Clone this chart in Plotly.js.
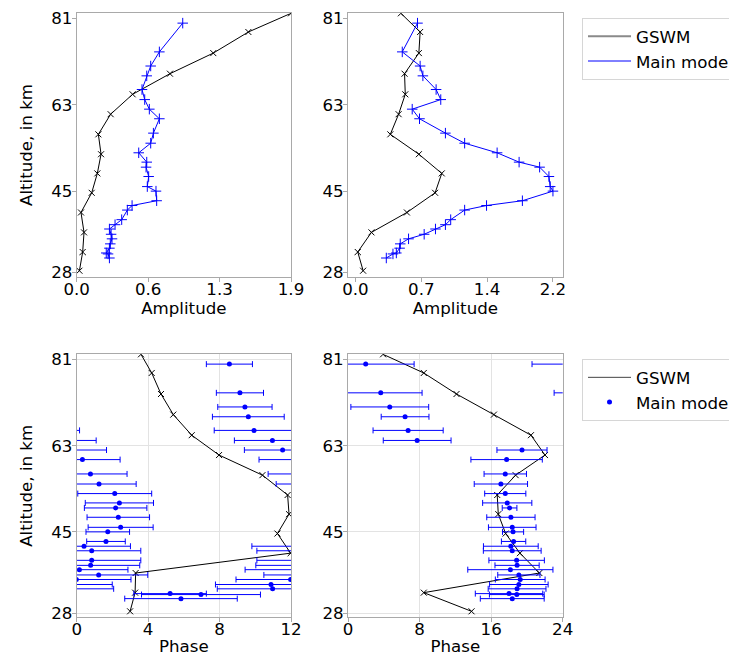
<!DOCTYPE html>
<html>
<head>
<meta charset="utf-8">
<script src="https://cdn.plot.ly/plotly-3.0.1.min.js"></script>
<style>html,body{margin:0;padding:0;background:#fff;}#chart{width:729px;height:660px;}</style>
</head>
<body>
<div id="chart"></div>
<script>
// ---------- data ----------
const altGswm = [82.1, 78.2, 73.8, 69.5, 65.2, 61.05, 56.85, 52.7, 48.7, 44.65, 40.55, 36.4, 32.3, 28.4];
const ampGswmLeft = [1.9, 1.522, 1.211, 0.827, 0.496, 0.301, 0.192, 0.216, 0.183, 0.133, 0.038, 0.065, 0.053, 0.024];
const ampGswmRight = [0.498, 0.709, 0.695, 0.538, 0.546, 0.473, 0.382, 0.695, 0.946, 0.873, 0.564, 0.175, 0.025, 0.084];
const phaseGswmLeft = [3.60, 4.20, 4.72, 5.41, 6.44, 7.97, 10.40, 11.81, 11.89, 11.24, 11.98, 3.30, 3.27, 2.99];
const phaseGswmRight = [3.92, 8.47, 12.13, 16.31, 20.45, 22.02, 18.74, 16.68, 16.80, 17.62, 19.22, 21.39, 8.47, 13.81];

const altMain = [80.05, 74.05, 71.1, 69.05, 66.2, 64.1, 62.1, 60.1, 57.1, 55.0, 53.0, 51.05, 50.0, 48.05, 45.95,
                 45.0, 43.0, 42.0, 41.05, 39.05, 38.0, 37.1, 36.0, 35.05, 34.0, 33.1, 32.1, 31.9, 31.05];
const ampMainLeft = [0.940, 0.733, 0.656, 0.621, 0.579, 0.603, 0.644, 0.733, 0.680, 0.656, 0.550, 0.621, 0.615, 0.638, 0.626,
                     0.703, 0.709, 0.491, 0.449, 0.399, 0.340, 0.290, 0.305, 0.313, 0.298, 0.290, 0.262, 0.278, 0.290];
const ampMainRight = [0.680, 0.513, 0.709, 0.739, 0.884, 0.935, 0.622, 0.702, 0.986, 1.197, 1.553, 1.794, 2.019, 2.121, 2.135,
                      2.165, 1.830, 1.437, 1.197, 1.044, 0.986, 0.877, 0.753, 0.582, 0.491, 0.484, 0.448, 0.411, 0.338];
const phaseMainLeft = [8.55, 9.14, 9.42, 9.61, 9.93, 10.96, 11.53, 0.32, 0.77, 1.25, 2.13, 2.39, 2.18, 2.33, 2.46,
                       1.74, 1.64, 0.41, 0.84, 0.84, 0.78, 0.15, 1.23, 11.98, 10.88, 10.97, 5.23, 6.96, 5.84];
const errMainLeft = [1.29, 1.32, 1.52, 2.01, 2.23, 2.13, 2.14, 2.11, 2.05, 2.08, 2.07, 1.91, 1.75, 1.75, 1.82,
                     1.22, 1.08, 2.60, 2.75, 2.75, 2.75, 2.72, 2.75, 3.06, 3.11, 3.10, 2.03, 3.33, 3.15];
const phaseMainRight = [1.98, 3.66, 4.67, 6.38, 6.72, 7.73, 19.45, 17.73, 17.58, 17.09, 17.58, 17.80, 18.06, 18.21, 18.36,
                        18.45, 18.51, 18.20, 18.36, 18.85, 18.90, 18.15, 19.10, 19.25, 19.10, 18.90, 18.00, 18.87, 18.36];
const errMainRight = [5.41, 4.62, 4.35, 2.67, 3.92, 3.79, 2.80, 3.99, 2.37, 2.98, 2.30, 2.75, 0.82, 2.70, 2.66,
                      1.18, 1.36, 3.06, 3.23, 3.10, 2.47, 4.76, 2.36, 2.78, 3.27, 3.23, 3.77, 3.06, 3.57];

const altTicks = [28, 45, 63, 81];
const periodLeft = 12, periodRight = 24;
const phaseTicksLeft = [0, 4, 8, 12];
const phaseTicksRight = [0, 8, 16, 24];
const labelGswm = 'GSWM', labelMain = 'Main mode';

// ---------- styles ----------
const FONT = 'DejaVu Sans, sans-serif';
const FS = 16.67;
const BLACK = '#000000', BLUE = '#0000ff', SPINE = '#a9a9a9';

function ampTicks(a, b) {
  const m = Math.max(...a, ...b);
  const vals = [0, m / 3, 2 * m / 3, m];
  return {vals, text: vals.map(v => v.toFixed(1))};
}

const traces = [];
function gswmTrace(x, xa, ya) {
  return {x, y: altGswm, xaxis: xa, yaxis: ya, type: 'scatter', mode: 'lines+markers', showlegend: false,
    line: {color: BLACK, width: 1},
    marker: {symbol: 'x-thin', size: 6, color: BLACK, line: {color: BLACK, width: 1}}, hoverinfo: 'skip'};
}
function mainAmpTrace(x, xa, ya) {
  return {x, y: altMain, xaxis: xa, yaxis: ya, type: 'scatter', mode: 'lines+markers', showlegend: false,
    line: {color: BLUE, width: 1},
    marker: {symbol: 'cross-thin', size: 7.5, color: BLUE, line: {color: BLUE, width: 1}}, hoverinfo: 'skip'};
}
function mainPhaseTraces(ph, err, period, xa, ya) {
  return [-period, 0, period].map(s => ({
    x: ph.map(v => v + s), y: altMain, xaxis: xa, yaxis: ya, type: 'scatter', mode: 'markers', showlegend: false,
    marker: {symbol: 'circle', size: 5, color: BLUE},
    error_x: {type: 'data', array: err, symmetric: true, color: BLUE, thickness: 1, width: 3},
    cliponaxis: true, hoverinfo: 'skip'}));
}

traces.push(gswmTrace(ampGswmLeft, 'x', 'y'));
traces.push(mainAmpTrace(ampMainLeft, 'x', 'y'));
traces.push(gswmTrace(ampGswmRight, 'x2', 'y2'));
traces.push(mainAmpTrace(ampMainRight, 'x2', 'y2'));
traces.push(gswmTrace(phaseGswmLeft, 'x3', 'y3'));
traces.push(...mainPhaseTraces(phaseMainLeft, errMainLeft, periodLeft, 'x3', 'y3'));
traces.push(gswmTrace(phaseGswmRight, 'x4', 'y4'));
traces.push(...mainPhaseTraces(phaseMainRight, errMainRight, periodRight, 'x4', 'y4'));

// legend-only entries
traces.push({x: [null], y: [null], xaxis: 'x', yaxis: 'y', type: 'scatter', mode: 'lines', name: labelGswm,
  line: {color: '#8a8a8a', width: 2}, legend: 'legend'});
traces.push({x: [null], y: [null], xaxis: 'x', yaxis: 'y', type: 'scatter', mode: 'lines', name: labelMain,
  line: {color: BLUE, width: 1}, legend: 'legend'});
traces.push({x: [null], y: [null], xaxis: 'x3', yaxis: 'y3', type: 'scatter', mode: 'lines', name: labelGswm,
  line: {color: '#444444', width: 1}, legend: 'legend2'});
traces.push({x: [null], y: [null], xaxis: 'x3', yaxis: 'y3', type: 'scatter', mode: 'markers', name: labelMain,
  marker: {color: BLUE, size: 5}, legend: 'legend2'});

const W = 729, H = 660;
const colL = [76.7 / W, 291 / W], colR = [348 / W, 562.7 / W];
const rowT = [1 - 276.7 / H, 1 - 13.3 / H], rowB = [1 - 617.3 / H, 1 - 354.3 / H];
const yRange = [27.15, 82.1];

function baseAxis(extra) {
  return Object.assign({
    showline: true, mirror: true, linecolor: SPINE, linewidth: 1,
    ticks: 'outside', ticklen: 4, tickcolor: SPINE, tickwidth: 1,
    tickfont: {family: FONT, size: FS, color: '#000'},
    zeroline: false, showgrid: false, fixedrange: true
  }, extra);
}
function yAx(domain, anchor, withTitle, grid) {
  return baseAxis({domain, anchor, range: yRange, tickmode: 'array', tickvals: altTicks, ticktext: altTicks.map(String),
    showgrid: grid, gridcolor: '#e3e3e3', ticklabelstandoff: -4,
    title: withTitle ? {text: 'Altitude, in km', font: {family: FONT, size: FS, color: '#000'}, standoff: 14} : {text: ''}});
}
function xAx(domain, anchor, range, tv, tt, title, grid) {
  return baseAxis({domain, anchor, range, tickmode: 'array', tickvals: tv, ticktext: tt,
    showgrid: grid, gridcolor: '#e3e3e3', ticklabelstandoff: -7,
    title: {text: title, font: {family: FONT, size: FS, color: '#000'}, standoff: 2}});
}

const tL = ampTicks(ampGswmLeft, ampMainLeft);
const tR = ampTicks(ampGswmRight, ampMainRight);
const allR = ampGswmRight.concat(ampMainRight);
const rMin = Math.min(...allR), rMax = Math.max(...allR), rPad = 0.05 * (rMax - rMin);

const legendStyle = {
  bgcolor: 'rgba(255,255,255,1)', bordercolor: '#d6d6d6', borderwidth: 1,
  font: {family: FONT, size: FS, color: '#000'}, xanchor: 'left', yanchor: 'top', tracegroupgap: 0,
  itemwidth: 43
};

const layout = {
  width: W, height: H, margin: {l: 0, r: 0, t: 0, b: 0, autoexpand: false}, paper_bgcolor: '#fff', plot_bgcolor: '#fff',
  font: {family: FONT, size: FS, color: '#000'},
  showlegend: true,
  legend: Object.assign({x: 582 / W, y: 1 - 18 / H}, legendStyle),
  legend2: Object.assign({x: 582 / W, y: 1 - 359 / H}, legendStyle),
  xaxis: xAx(colL, 'y', [0, Math.max(...ampGswmLeft, ...ampMainLeft)], tL.vals, tL.text, 'Amplitude', false),
  yaxis: yAx(rowT, 'x', true, false),
  xaxis2: xAx(colR, 'y2', [rMin - rPad, rMax + rPad], tR.vals, tR.text, 'Amplitude', false),
  yaxis2: yAx(rowT, 'x2', false, false),
  xaxis3: xAx(colL, 'y3', [0, periodLeft], phaseTicksLeft, phaseTicksLeft.map(String), 'Phase', true),
  yaxis3: yAx(rowB, 'x3', true, true),
  xaxis4: xAx(colR, 'y4', [0, periodRight], phaseTicksRight, phaseTicksRight.map(String), 'Phase', true),
  yaxis4: yAx(rowB, 'x4', false, true)
};

Plotly.newPlot('chart', traces, layout, {staticPlot: true, displayModeBar: false});
</script>
</body>
</html>
